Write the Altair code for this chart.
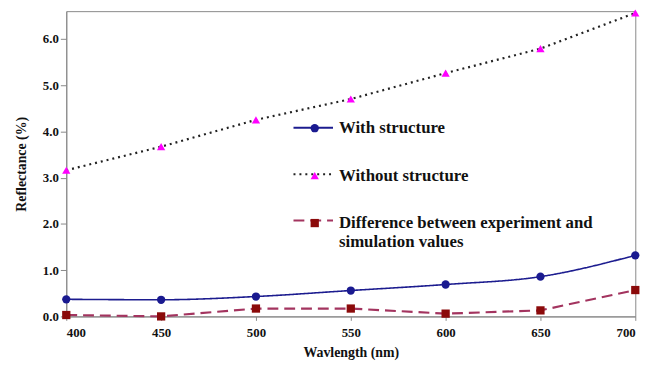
import altair as alt
import pandas as pd

wavelength = [400, 450, 500, 550, 600, 650, 700]
with_structure = [0.37, 0.36, 0.43, 0.56, 0.69, 0.86, 1.32]
without_structure = [3.16, 3.67, 4.25, 4.70, 5.26, 5.79, 6.56]
difference = [0.03, 0.00, 0.17, 0.17, 0.06, 0.13, 0.57]

series_names = ["With structure", "Without structure",
                "Difference between experiment and simulation values"]
line_colors = ["#1c1c8f", "#222222", "#a3345f"]
marker_colors = ["#1a1a90", "#ff00ff", "#8b0a0a"]
marker_shapes = ["circle", "triangle-up", "square"]
dashes = [[1, 0], [2, 4], [11, 6]]

line_names = [n + " " for n in series_names]

rows = []
for name, lname, vals in zip(series_names, line_names,
                             [with_structure, without_structure, difference]):
    for w, v in zip(wavelength, vals):
        rows.append({"wl": w, "val": v, "series": name, "sl": lname})
df = pd.DataFrame(rows)

FONT = "Liberation Serif"
LFS = 17
label_expr = ("indexof(datum.label, 'Difference') == 0 ? "
              "['Difference between experiment and', 'simulation values'] : datum.label")

x = alt.X("wl:Q", scale=alt.Scale(domain=[400, 700], nice=False),
          axis=alt.Axis(values=wavelength, title="Wavlength (nm)", grid=False,
                        tickSize=4, labelPadding=6, titlePadding=7))
y = alt.Y("val:Q", scale=alt.Scale(domain=[0, 6.6], nice=False),
          axis=alt.Axis(values=[0, 1, 2, 3, 4, 5, 6], format=".1f", title="Reflectance (%)",
                        grid=False, tickSize=6, labelPadding=2, titlePadding=14))

line_legend = alt.Legend(title=None, orient="none", legendX=229, legendY=97,
                         symbolType="stroke", symbolSize=1600, symbolStrokeWidth=2,
                         labelExpr="''", rowPadding=18,
                         padding=0, labelLimit=400, labelFont=FONT, labelFontSize=LFS,
                         labelFontWeight="bold", labelOffset=0)
stroke_enc = alt.Stroke("sl:N", scale=alt.Scale(domain=line_names, range=line_colors),
                        legend=line_legend)
dash_enc = alt.StrokeDash("sl:N", scale=alt.Scale(domain=line_names, range=dashes),
                          legend=line_legend)

smooth = alt.Chart(df).transform_filter(
    alt.datum.series == "With structure").mark_line(
    interpolate="monotone", strokeWidth=1.6).encode(x=x, y=y, stroke=stroke_enc, strokeDash=dash_enc)
straight = alt.Chart(df).transform_filter(
    alt.datum.series != "With structure").mark_line(
    strokeWidth=2.2).encode(x=x, y=y, stroke=stroke_enc, strokeDash=dash_enc)

point_legend = alt.Legend(title=None, orient="none", legendX=243, legendY=110,
                          symbolSize=70, symbolStrokeWidth=0, labelExpr=label_expr,
                          rowPadding=30, padding=0, labelLimit=400, labelFont=FONT,
                          labelFontSize=LFS, labelFontWeight="bold", labelColor="#111",
                          labelOffset=16)
points = alt.Chart(df).mark_point(filled=True, size=70, opacity=1).encode(
    x=x, y=y,
    fill=alt.Fill("series:N", scale=alt.Scale(domain=series_names, range=marker_colors),
                  legend=point_legend),
    shape=alt.Shape("series:N", scale=alt.Scale(domain=series_names, range=marker_shapes),
                    legend=point_legend),
)

chart = alt.layer(smooth, straight, points).properties(
    width=576, height=309, background="white",
    autosize=alt.AutoSizeParams(type="none"),
    padding={"left": 59, "top": 1, "right": 24, "bottom": 48},
).configure_view(stroke="#888", strokeWidth=1).configure_axis(
    labelFont=FONT, labelFontSize=13, labelFontWeight="bold", labelColor="#111",
    titleFont=FONT, titleFontSize=14, titleFontWeight="bold", titleColor="#111",
    domainColor="#888", tickColor="#888",
)

chart.save("out.html", embed_options={"renderer": "svg", "actions": False})
